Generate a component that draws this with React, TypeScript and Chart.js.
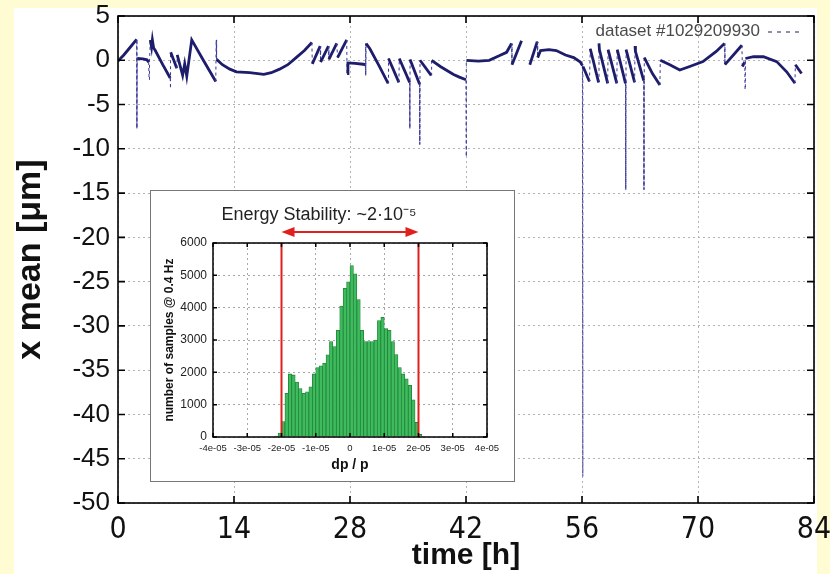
import React, { useEffect, useRef } from "react";
import { Chart, registerables } from "chart.js";

Chart.register(...registerables);

// ---------- main trace (time in hours, horizontal beam position in µm) ----------
const timeH: number[] = [
  0.0, 0.7, 1.5, 2.25, 2.28, 2.32, 3.0, 3.5, 3.7, 3.75,
  3.8, 3.9, 4.05, 4.15, 4.3, 4.5, 5.4, 6.3, 6.32, 6.36,
  7.1, 7.15, 7.8, 8.05, 8.3, 8.9, 10.3, 11.8, 11.85, 11.9,
  12.6, 13.5, 14.3, 15.9, 17.6, 18.5, 19.5, 20.5, 21.5, 22.5,
  23.4, 23.45, 24.4, 24.45, 25.4, 25.45, 26.4, 26.5, 27.6, 27.65,
  27.75, 28.6, 29.6, 29.85, 29.88, 29.91, 29.95, 30.4, 31.5, 32.6,
  32.65, 33.9, 33.95, 35.2, 35.22, 35.25, 36.4, 36.42, 36.45, 37.8,
  37.85, 38.9, 40.5, 41.2, 42.0, 42.02, 42.05, 43.5, 44.8, 46.0,
  46.9, 47.5, 47.55, 48.7, 49.2, 49.7, 50.6, 50.65, 51.0, 52.0,
  52.9, 54.0, 55.0, 55.8, 56.05, 56.08, 56.12, 56.9, 57.0, 58.0,
  58.05, 58.1, 59.1, 59.15, 60.2, 60.25, 61.25, 61.28, 61.32, 62.35,
  62.4, 62.45, 63.45, 63.48, 63.52, 64.5, 65.4, 65.45, 66.6, 67.8,
  69.0, 70.6, 72.2, 73.2, 73.25, 75.3, 75.35, 75.65, 75.68, 75.72,
  76.7, 77.9, 79.5, 80.7, 81.7, 81.75, 82.5,
];
const xMean: (number | null)[] = [
  -0.1, 0.6, 1.5, 2.35, -7.7, 0.2, 0.15, 0.05, -0.2, -2.2,
  -0.2, 2.3, 1.5, 2.3, 1.4, 1.1, -0.5, -2.0, -3.2, 0.9,
  -0.9, 0.6, -1.7, -0.4, -1.8, 2.3, 0.0, -2.4, 2.3, 0.1,
  -0.5, -1.0, -1.3, -1.4, -1.6, -1.4, -1.0, -0.5, 0.3, 1.1,
  2.0, -0.4, 1.6, -0.2, 1.6, 0.1, 1.9, 0.3, 2.3, -1.5,
  -0.3, -0.35, -0.45, -0.5, 1.9, -1.7, 1.9, 1.3, -0.6, -2.6,
  0.2, -2.5, 0.2, -2.5, -7.7, 0.1, -2.7, -9.5, 0.0, -1.7,
  0.0, -0.7, -1.6, -1.9, -2.2, -10.9, 0.0, -0.1, 0.0, 0.5,
  0.9, 1.9, -0.5, 2.2, null, -0.5, 2.1, 0.3, 1.1, 1.2,
  1.1, 0.6, 0.3, -0.2, -0.6, -47, -0.7, -2.4, 1.3, -2.5,
  1.9, 1.2, -2.6, 1.2, -2.6, 1.2, -2.6, -14.6, 1.2, -2.5,
  1.6, 1.0, -2.3, -14.6, 0.3, -1.5, -2.8, 0.0, -0.5, -1.1,
  -0.7, -0.15, 1.0, 1.9, -0.5, 1.7, -0.7, -0.2, -3.3, 0.2,
  0.4, 0.4, -0.15, -1.3, -2.6, -0.5, -1.5,
];
const mainXTickLabels = ["0", "14", "28", "42", "56", "70", "84"];
const legendLabel = "dataset #1029209930";

// ---------- inset histogram (bin centres in units of 1e-6, counts) ----------
const histBinCenter: number[] = [
  -21.5, -20.5, -19.5, -18.5, -17.5, -16.5, -15.5, -14.5, -13.5, -12.5,
  -11.5, -10.5, -9.5, -8.5, -7.5, -6.5, -5.5, -4.5, -3.5, -2.5,
  -1.5, -0.5, 0.5, 1.5, 2.5, 3.5, 4.5, 5.5, 6.5, 7.5,
  8.5, 9.5, 10.5, 11.5, 12.5, 13.5, 14.5, 15.5, 16.5, 17.5,
  18.5, 19.5, 20.5, 21.5,
];
const histCounts: number[] = [
  30, 120, 480, 1350, 1950, 1920, 1700, 1500, 1350, 1400,
  1550, 1950, 2150, 2200, 2280, 2540, 2950, 2800, 3300, 4050,
  4600, 4800, 5300, 5050, 4250, 3300, 2950, 2950, 2950, 3000,
  3600, 3700, 3350, 3300, 2950, 2550, 2150, 1950, 1800, 1600,
  1150, 450, 80, 15,
];
const insetXTickLabels = ["-4e-05", "-3e-05", "-2e-05", "-1e-05", "0", "1e-05", "2e-05", "3e-05", "4e-05"];
const stabilityLimits = [-2e-5, 2e-5];
const insetTitle = "Energy Stability: ~2·10⁻⁵";

const NAVY = "#1d1d6c";
const SANS = "'Liberation Sans', Arial, Helvetica, sans-serif";
const NARROW = "'Liberation Sans Narrow', 'Arial Narrow', 'DejaVu Sans Condensed', 'Liberation Sans', sans-serif";

const framePlugin = {
  id: "frame",
  afterDatasetsDraw(chart: any, _args: any, opts: any) {
    const { ctx, chartArea: a, scales } = chart;
    const tl = opts.tickLen ?? 6;
    ctx.save();
    ctx.strokeStyle = "#000";
    ctx.lineWidth = opts.lineWidth ?? 1.5;
    ctx.beginPath();
    scales.x.ticks.forEach((t: any) => {
      const px = scales.x.getPixelForValue(t.value);
      ctx.moveTo(px, a.bottom);
      ctx.lineTo(px, a.bottom - tl);
      ctx.moveTo(px, a.top);
      ctx.lineTo(px, a.top + tl);
    });
    scales.y.ticks.forEach((t: any) => {
      const py = scales.y.getPixelForValue(t.value);
      ctx.moveTo(a.left, py);
      ctx.lineTo(a.left + tl, py);
      ctx.moveTo(a.right, py);
      ctx.lineTo(a.right - tl, py);
    });
    ctx.stroke();
    ctx.strokeRect(a.left, a.top, a.right - a.left, a.bottom - a.top);
    ctx.restore();
  },
};

const legendPlugin = {
  id: "insideLegend",
  afterDraw(chart: any) {
    const { ctx, chartArea: a } = chart;
    const y = a.top + 15;
    const lineEnd = a.right - 10;
    const lineStart = lineEnd - 36;
    ctx.save();
    ctx.font = `17px ${SANS}`;
    ctx.fillStyle = "#4a4a4a";
    ctx.textAlign = "right";
    ctx.textBaseline = "middle";
    ctx.fillText(legendLabel, lineStart - 8, y);
    ctx.strokeStyle = NAVY;
    ctx.lineWidth = 1.2;
    ctx.setLineDash([4, 5]);
    ctx.beginPath();
    ctx.moveTo(lineStart, y + 1);
    ctx.lineTo(lineEnd, y + 1);
    ctx.stroke();
    ctx.restore();
  },
};

const limitsPlugin = {
  id: "limits",
  afterDatasetsDraw(chart: any) {
    const { ctx, chartArea: a, scales } = chart;
    const x0 = scales.x.getPixelForValue(stabilityLimits[0]);
    const x1 = scales.x.getPixelForValue(stabilityLimits[1]);
    ctx.save();
    ctx.strokeStyle = "#e0201c";
    ctx.fillStyle = "#e0201c";
    ctx.lineWidth = 2;
    ctx.beginPath();
    ctx.moveTo(x0, a.top);
    ctx.lineTo(x0, a.bottom);
    ctx.moveTo(x1, a.top);
    ctx.lineTo(x1, a.bottom);
    const ay = a.top - 11;
    ctx.moveTo(x0 + 10, ay);
    ctx.lineTo(x1 - 10, ay);
    ctx.stroke();
    ctx.beginPath();
    ctx.moveTo(x0, ay);
    ctx.lineTo(x0 + 13, ay - 5);
    ctx.lineTo(x0 + 13, ay + 5);
    ctx.closePath();
    ctx.moveTo(x1, ay);
    ctx.lineTo(x1 - 13, ay - 5);
    ctx.lineTo(x1 - 13, ay + 5);
    ctx.closePath();
    ctx.fill();
    ctx.restore();
  },
};

const isJump = (c: any) => {
  const dt = Math.abs(c.p1.parsed.x - c.p0.parsed.x);
  const dv = Math.abs(c.p1.parsed.y - c.p0.parsed.y);
  return dt < 1e-9 || dv / dt > 15;
};

const fixX = (h: number) => (s: any) => {
  s.height = h;
  s.paddingLeft = 0;
  s.paddingRight = 0;
};
const fixY = (w: number) => (s: any) => {
  s.width = w;
  s.paddingTop = 0;
  s.paddingBottom = 0;
};

export default function App() {
  const mainRef = useRef<HTMLCanvasElement>(null);
  const insetRef = useRef<HTMLCanvasElement>(null);

  useEffect(() => {
    const mainData = timeH.map((t, i) => ({ x: t, y: xMean[i] }));
    const main = new Chart(mainRef.current as HTMLCanvasElement, {
      type: "line",
      data: {
        datasets: [
          {
            label: legendLabel,
            data: mainData as any,
            borderColor: NAVY,
            borderWidth: 2.8,
            pointRadius: 0,
            tension: 0,
            spanGaps: false,
            segment: {
              borderWidth: (c: any) => (isJump(c) ? 1 : undefined),
              borderDash: (c: any) => (isJump(c) ? [3, 3] : undefined),
              borderColor: (c: any) => (isJump(c) ? "#3b3b9c" : undefined),
            },
          } as any,
        ],
      },
      options: {
        animation: false,
        responsive: false,
        maintainAspectRatio: false,
        layout: { padding: { left: 0, right: 16, top: 16, bottom: 0 } },
        plugins: {
          legend: { display: false },
          tooltip: { enabled: false },
          frame: { tickLen: 7, lineWidth: 1.6 },
        } as any,
        scales: {
          x: {
            type: "linear",
            min: 0,
            max: 84,
            afterFit: fixX(71),
            ticks: {
              stepSize: 14,
              autoSkip: false,
              maxRotation: 0,
              padding: 9,
              color: "#111",
              font: { family: NARROW, size: 30 },
              callback: (_v: any, i: number) => mainXTickLabels[i],
            },
            grid: { color: "#b4b4b4", lineWidth: 1, drawTicks: false },
            border: { display: false, dash: [2, 3] },
            title: {
              display: true,
              text: "time [h]",
              color: "#111",
              font: { family: SANS, size: 30, weight: "bold" },
              padding: { top: 0, bottom: 0 },
            },
          },
          y: {
            type: "linear",
            min: -50,
            max: 5,
            afterFit: fixY(118),
            ticks: {
              stepSize: 5,
              autoSkip: false,
              padding: 8,
              color: "#111",
              font: { family: SANS, size: 26 },
              callback: (v: any) => String(Math.round(Number(v))),
            },
            grid: { color: "#b4b4b4", lineWidth: 1, drawTicks: false },
            border: { display: false, dash: [2, 3] },
            title: {
              display: true,
              text: "x mean [μm]",
              color: "#111",
              font: { family: SANS, size: 34, weight: "bold" },
              padding: { top: 10, bottom: 0 },
            },
          },
        },
      } as any,
      plugins: [framePlugin, legendPlugin],
    });

    const histData = histBinCenter.map((c, i) => ({ x: c * 1e-6, y: histCounts[i] }));
    const inset = new Chart(insetRef.current as HTMLCanvasElement, {
      type: "bar",
      data: {
        datasets: [
          {
            data: histData as any,
            backgroundColor: "#3dbb5d",
            borderColor: "#1e8238",
            borderWidth: 0.8,
            barPercentage: 1,
            categoryPercentage: 1,
          } as any,
        ],
      },
      options: {
        animation: false,
        responsive: false,
        maintainAspectRatio: false,
        layout: { padding: { left: 0, right: 27, top: 0, bottom: 0 } },
        plugins: {
          legend: { display: false },
          tooltip: { enabled: false },
          title: {
            display: true,
            text: insetTitle,
            color: "#222",
            font: { family: SANS, size: 18, weight: "normal" },
            padding: { top: 13, bottom: 17.4 },
          },
          frame: { tickLen: 4, lineWidth: 1.5 },
        } as any,
        scales: {
          x: {
            type: "linear",
            min: -4e-5,
            max: 4e-5,
            offset: false,
            afterFit: fixX(44),
            ticks: {
              stepSize: 1e-5,
              autoSkip: false,
              maxRotation: 0,
              padding: 6,
              color: "#222",
              font: { family: SANS, size: 9.5 },
              callback: (_v: any, i: number) => insetXTickLabels[i],
            },
            grid: { color: "#a8a8a8", lineWidth: 1, drawTicks: false, offset: false },
            border: { display: false, dash: [2, 3] },
            title: {
              display: true,
              text: "dp / p",
              color: "#111",
              font: { family: SANS, size: 14, weight: "bold" },
              padding: { top: 0, bottom: 7 },
            },
          },
          y: {
            type: "linear",
            min: 0,
            max: 6000,
            afterFit: fixY(62),
            ticks: {
              stepSize: 1000,
              autoSkip: false,
              padding: 6,
              color: "#222",
              font: { family: SANS, size: 12 },
              callback: (v: any) => String(Math.round(Number(v))),
            },
            grid: { color: "#a8a8a8", lineWidth: 1, drawTicks: false },
            border: { display: false, dash: [2, 3] },
            title: {
              display: true,
              text: "number of samples @ 0.4 Hz",
              color: "#111",
              font: { family: SANS, size: 12, weight: "bold" },
              padding: { top: 11, bottom: 0 },
            },
          },
        },
      } as any,
      plugins: [limitsPlugin, framePlugin],
    });

    return () => {
      main.destroy();
      inset.destroy();
    };
  }, []);

  return (
    <div
      style={{
        position: "fixed",
        left: 0,
        top: 0,
        width: 830,
        height: 574,
        background: "#fffcd3",
        overflow: "hidden",
      }}
    >
      <div style={{ position: "absolute", left: 14, top: 8, width: 803, height: 566, background: "#ffffff" }} />
      <canvas
        ref={mainRef}
        width={830}
        height={574}
        style={{ position: "absolute", left: 0, top: 0, width: 830, height: 574 }}
      />
      <div
        style={{
          position: "absolute",
          left: 150,
          top: 190,
          width: 365,
          height: 292,
          boxSizing: "border-box",
          border: "1px solid #777",
          background: "#ffffff",
        }}
      >
        <canvas
          ref={insetRef}
          width={363}
          height={290}
          style={{ position: "absolute", left: 0, top: 0, width: 363, height: 290 }}
        />
      </div>
    </div>
  );
}
